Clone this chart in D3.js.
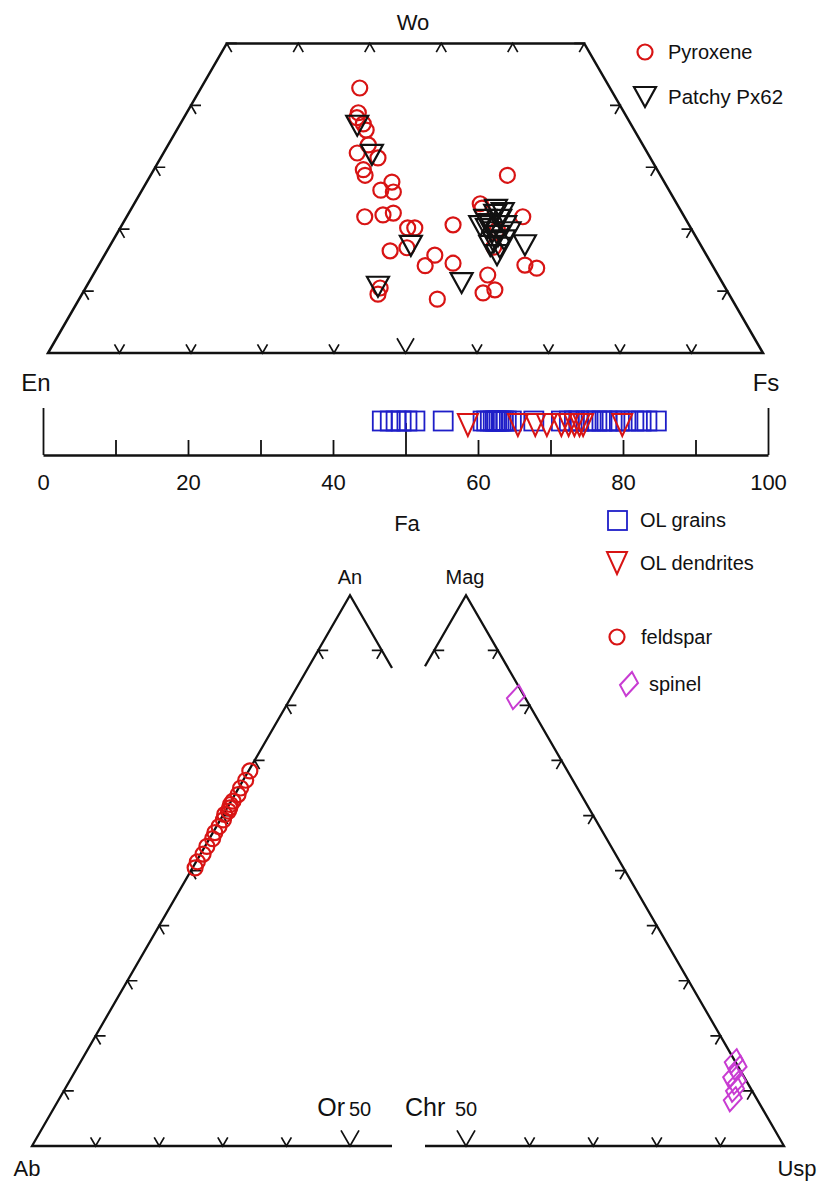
<!DOCTYPE html>
<html><head><meta charset="utf-8">
<script src="https://cdn.jsdelivr.net/npm/d3@7"></script>
<style>
body{margin:0;background:#fff}
svg{display:block}
text{font-family:"Liberation Sans",Arial,sans-serif;fill:#111}
</style>
</head><body>
<svg id="c" width="818" height="1184"></svg>
<script>
// ---------------- DATA ----------------
// Pyroxene (Wo, Fs in mol%; En = 100 - Wo - Fs)
const pyroxeneWo = [42.8,38.8,38.0,37.0,36.0,33.6,32.3,31.5,29.6,28.7,26.3,27.6,26.0,22.0,22.3,22.6,20.2,20.2,16.5,17.0,14.1,15.8,10.5,9.5,8.7,28.7,24.1,23.4,20.7,22.0,19.9,14.5,14.2,13.7,12.6,9.7,10.2,17.1];
const pyroxeneFs = [22.2,24.0,24.2,25.6,26.5,28.0,27.1,30.4,29.3,30.0,33.4,34.3,35.3,33.3,35.7,37.0,40.2,41.2,39.6,41.7,45.7,46.2,41.2,41.4,50.1,49.9,48.4,49.0,46.3,55.4,52.9,49.4,59.6,61.5,55.2,56.0,57.4,53.8];
// Patchy Px62
const px62Wo = [36.7,32.0,17.3,10.7,11.3,17.4,21.5,20.8,22.3,21.5,20.5,19.5,18.9,20.0,17.9,17.0,17.3,18.2,19.5,20.5,15.8,23.1,22.6];
const px62Fs = [24.9,29.3,42.1,40.8,52.2,58.0,50.4,51.4,51.4,52.5,53.7,52.4,53.5,51.4,53.4,54.7,53.2,54.7,54.8,50.2,54.9,51.1,52.3];
// Olivine Fa (mol%)
const olGrainsFa = [46.8,47.9,48.7,49.4,50.2,51.3,55.2,60.7,61.2,61.7,62.1,62.4,62.6,62.9,63.2,63.5,63.9,64.6,67.7,71.5,72.6,73.3,73.9,74.9,75.6,76.4,77.1,77.8,78.5,79.5,80.4,81.5,82.5,83.3,84.6];
const olDendritesFa = [58.6,65.5,67.9,69.5,71.5,72.5,73.3,74.0,74.5,79.9];
// Feldspar (An, Or; Ab = 100 - An - Or)
const feldsparAn = [68.1,66.4,65.0,63.8,62.6,61.4,60.2,59.2,58.0,56.9,55.8,54.4,53.0,51.6,50.5,62.0,60.8];
const feldsparOr = [0.2,0.4,0.3,0.5,0.3,0.4,0.2,0.5,0.4,0.3,0.5,0.3,0.4,0.2,0.4,0.2,0.5];
// Spinel (Mag, Usp; Chr = 100 - Mag - Usp)
const spinelMag = [81.5,15.4,14.2,12.7,11.6,10.2,8.5];
const spinelUsp = [17.1,84.4,85.6,85.5,86.8,87.2,87.7];
// ticks
const faTicks = [0,10,20,30,40,50,60,70,80,90,100];
const faTickLabels = [0,20,40,60,80,100];
const ternTicks = [10,20,30,40,50,60,70,80,90];
const bigTick = 50;

// ---------------- STYLE ----------------
const RED = "#d81414", BLUE = "#1e1ec8", MAG = "#c83cd2", BLACK = "#111";
const S = Math.sqrt(3) / 2;
const svg = d3.select("#c");

// ---------------- SCALES ----------------
const pxX = d3.scaleLinear().domain([0, 100]).range([48, 763]);
const pxY = d3.scaleLinear().domain([0, 100]).range([353, 353 - 715 * S]);
const pyx = (wo, fs) => [pxX(fs + wo / 2), pxY(wo)];
const faX = d3.scaleLinear().domain([0, 100]).range([43, 768]);
const faY = 455;
const fdX = d3.scaleLinear().domain([0, 100]).range([32, 668]);
const tY = d3.scaleLinear().domain([0, 100]).range([1146, 1146 - 636 * S]);
const fdp = (an, or) => [fdX(or + an / 2), tY(an)];
const fdClip = 392;
const spX = d3.scaleLinear().domain([0, 100]).range([148, 784]);
const spp = (mag, usp) => [spX(usp + mag / 2), tY(mag)];
const spClip = 425;

const line = d3.line();
function chevron(g, p, d1, d2, L) {
  g.append("path")
    .attr("d", line([[p[0] + d1[0] * L, p[1] + d1[1] * L], p, [p[0] + d2[0] * L, p[1] + d2[1] * L]]))
    .attr("fill", "none").attr("stroke", BLACK).attr("stroke-width", 1.7);
}
const UP = [[0.5, -S], [-0.5, -S]], LEFTE = [[1, 0], [0.5, S]], RIGHTE = [[-1, 0], [-0.5, S]], TOPE = [[-0.5, S], [0.5, S]];
const triPath = (w, h) => `M${-w / 2},${-h / 2}L${w / 2},${-h / 2}L0,${h / 2}Z`;

// ---------------- PYROXENE ----------------
const gp = svg.append("g");
gp.append("path")
  .attr("d", line([pyx(0, 0), pyx(0, 100), pyx(50, 50), pyx(50, 0)]) + "Z")
  .attr("fill", "none").attr("stroke", BLACK).attr("stroke-width", 2.5);
ternTicks.forEach(t => chevron(gp, pyx(0, t), UP[0], UP[1], t === bigTick ? 17 : 10));
ternTicks.filter(t => t <= 50).forEach(t => {
  chevron(gp, pyx(t, 0), LEFTE[0], LEFTE[1], 10);
  chevron(gp, pyx(t, 100 - t), RIGHTE[0], RIGHTE[1], 10);
});
ternTicks.filter(t => t < 50).forEach(t => chevron(gp, pyx(50, t), TOPE[0], TOPE[1], 10));

gp.append("text").attr("x", 413).attr("y", 30).attr("text-anchor", "middle").attr("font-size", 22).text("Wo");
gp.append("text").attr("x", 36).attr("y", 391).attr("text-anchor", "middle").attr("font-size", 24).text("En");
gp.append("text").attr("x", 766).attr("y", 391).attr("text-anchor", "middle").attr("font-size", 24).text("Fs");

gp.selectAll("circle.px").data(pyroxeneWo).join("circle")
  .attr("cx", (d, i) => pyx(d, pyroxeneFs[i])[0])
  .attr("cy", (d, i) => pyx(d, pyroxeneFs[i])[1])
  .attr("r", 7.5).attr("fill", "none").attr("stroke", RED).attr("stroke-width", 2.2);
gp.selectAll("path.p62").data(px62Wo).join("path")
  .attr("transform", (d, i) => { const p = pyx(d, px62Fs[i]); return `translate(${p[0]},${p[1]})`; })
  .attr("d", triPath(22, 20)).attr("fill", "none").attr("stroke", BLACK).attr("stroke-width", 2.2);

gp.append("circle").attr("cx", 645).attr("cy", 52).attr("r", 7.5).attr("fill", "none").attr("stroke", RED).attr("stroke-width", 2.2);
gp.append("text").attr("x", 668).attr("y", 52).attr("dy", "0.35em").attr("font-size", 20).text("Pyroxene");
gp.append("path").attr("transform", "translate(645,97)").attr("d", triPath(22, 20)).attr("fill", "none").attr("stroke", BLACK).attr("stroke-width", 2.2);
gp.append("text").attr("x", 668).attr("y", 97).attr("dy", "0.35em").attr("font-size", 20.5).text("Patchy Px62");

// ---------------- Fa AXIS ----------------
const gf = svg.append("g").attr("transform", `translate(0,${faY})`);
const ax = gf.append("g").call(d3.axisTop(faX).tickValues(faTicks).tickSize(15).tickSizeOuter(0).tickFormat(""));
ax.select(".domain").attr("stroke", BLACK).attr("stroke-width", 2.3);
ax.selectAll(".tick line").attr("stroke", BLACK).attr("stroke-width", 1.8)
  .attr("y2", d => (d === 0 || d === 100) ? -47 : d === 50 ? -32 : -15);
const axl = gf.append("g").call(d3.axisBottom(faX).tickValues(faTickLabels).tickSize(0).tickPadding(19));
axl.select(".domain").remove();
axl.selectAll("text").attr("font-size", 22).attr("font-family", '"Liberation Sans",Arial,sans-serif').attr("fill", "#111");
svg.append("text").attr("x", 407).attr("y", 531).attr("text-anchor", "middle").attr("font-size", 22).text("Fa");

const gOl = svg.append("g");
gOl.selectAll("rect").data(olGrainsFa).join("rect")
  .attr("x", d => faX(d) - 9.5).attr("y", 421 - 9.5).attr("width", 19).attr("height", 19)
  .attr("fill", "none").attr("stroke", BLUE).attr("stroke-width", 1.8);
gOl.selectAll("path").data(olDendritesFa).join("path")
  .attr("transform", d => `translate(${faX(d)},425)`)
  .attr("d", triPath(20, 22)).attr("fill", "none").attr("stroke", RED).attr("stroke-width", 2);

svg.append("rect").attr("x", 608).attr("y", 511).attr("width", 19).attr("height", 19).attr("fill", "none").attr("stroke", BLUE).attr("stroke-width", 1.8);
svg.append("text").attr("x", 640).attr("y", 520).attr("dy", "0.35em").attr("font-size", 20).text("OL grains");
svg.append("path").attr("transform", "translate(617,563)").attr("d", triPath(20, 22)).attr("fill", "none").attr("stroke", RED).attr("stroke-width", 2);
svg.append("text").attr("x", 640).attr("y", 563).attr("dy", "0.35em").attr("font-size", 20).text("OL dendrites");

// ---------------- FELDSPAR ----------------
const gd = svg.append("g");
const fdAnClip = 2 * (100 - fdX.invert(fdClip));
gd.append("path")
  .attr("d", line([[fdClip, tY(0)], fdp(0, 0), fdp(100, 0), fdp(fdAnClip, 100 - fdAnClip)]))
  .attr("fill", "none").attr("stroke", BLACK).attr("stroke-width", 2.3);
ternTicks.forEach(t => {
  chevron(gd, fdp(t, 0), LEFTE[0], LEFTE[1], 10);
  const pb = fdp(0, t); if (pb[0] <= fdClip - 8) chevron(gd, pb, UP[0], UP[1], t === bigTick ? 18 : 10);
  const pr = fdp(t, 100 - t); if (pr[0] <= fdClip - 5) chevron(gd, pr, RIGHTE[0], RIGHTE[1], 10);
});
gd.append("text").attr("x", 350).attr("y", 584).attr("text-anchor", "middle").attr("font-size", 20).text("An");
gd.append("text").attr("x", 27).attr("y", 1176).attr("text-anchor", "middle").attr("font-size", 22).text("Ab");
gd.append("text").attr("x", 345).attr("y", 1116).attr("text-anchor", "end").attr("font-size", 25).text("Or");
gd.append("text").attr("x", 349).attr("y", 1116).attr("font-size", 20).text("50");
gd.selectAll("circle").data(feldsparAn).join("circle")
  .attr("cx", (d, i) => fdp(d, feldsparOr[i])[0])
  .attr("cy", (d, i) => fdp(d, feldsparOr[i])[1])
  .attr("r", 7.5).attr("fill", "none").attr("stroke", RED).attr("stroke-width", 2.2);

// ---------------- SPINEL ----------------
const gs = svg.append("g");
const spMagClip = 2 * (spX.invert(spClip));
gs.append("path")
  .attr("d", line([[spClip, tY(0)], spp(0, 100), spp(100, 0), spp(spMagClip, 0)]))
  .attr("fill", "none").attr("stroke", BLACK).attr("stroke-width", 2.3);
ternTicks.forEach(t => {
  chevron(gs, spp(t, 100 - t), RIGHTE[0], RIGHTE[1], 10);
  const pb = spp(0, t); if (pb[0] >= spClip + 8) chevron(gs, pb, UP[0], UP[1], t === bigTick ? 18 : 10);
  const pl = spp(t, 0); if (pl[0] >= spClip + 5) chevron(gs, pl, LEFTE[0], LEFTE[1], 10);
});
gs.append("text").attr("x", 465).attr("y", 584).attr("text-anchor", "middle").attr("font-size", 20).text("Mag");
gs.append("text").attr("x", 797).attr("y", 1176).attr("text-anchor", "middle").attr("font-size", 22).text("Usp");
gs.append("text").attr("x", 405).attr("y", 1116).attr("font-size", 25).text("Chr");
gs.append("text").attr("x", 455).attr("y", 1116).attr("font-size", 20).text("50");
const diamond = "M3,-12L9,-1L-3,12L-9,1Z";
gs.selectAll("path.sp").data(spinelMag).join("path")
  .attr("transform", (d, i) => { const p = spp(d, spinelUsp[i]); return `translate(${p[0]},${p[1]})`; })
  .attr("d", diamond).attr("fill", "none").attr("stroke", MAG).attr("stroke-width", 2);

svg.append("circle").attr("cx", 617).attr("cy", 637).attr("r", 7.5).attr("fill", "none").attr("stroke", RED).attr("stroke-width", 2.2);
svg.append("text").attr("x", 641).attr("y", 637).attr("dy", "0.35em").attr("font-size", 20).text("feldspar");
svg.append("path").attr("transform", "translate(629,684)").attr("d", diamond).attr("fill", "none").attr("stroke", MAG).attr("stroke-width", 2);
svg.append("text").attr("x", 649).attr("y", 684).attr("dy", "0.35em").attr("font-size", 20).text("spinel");
</script>
</body></html>
